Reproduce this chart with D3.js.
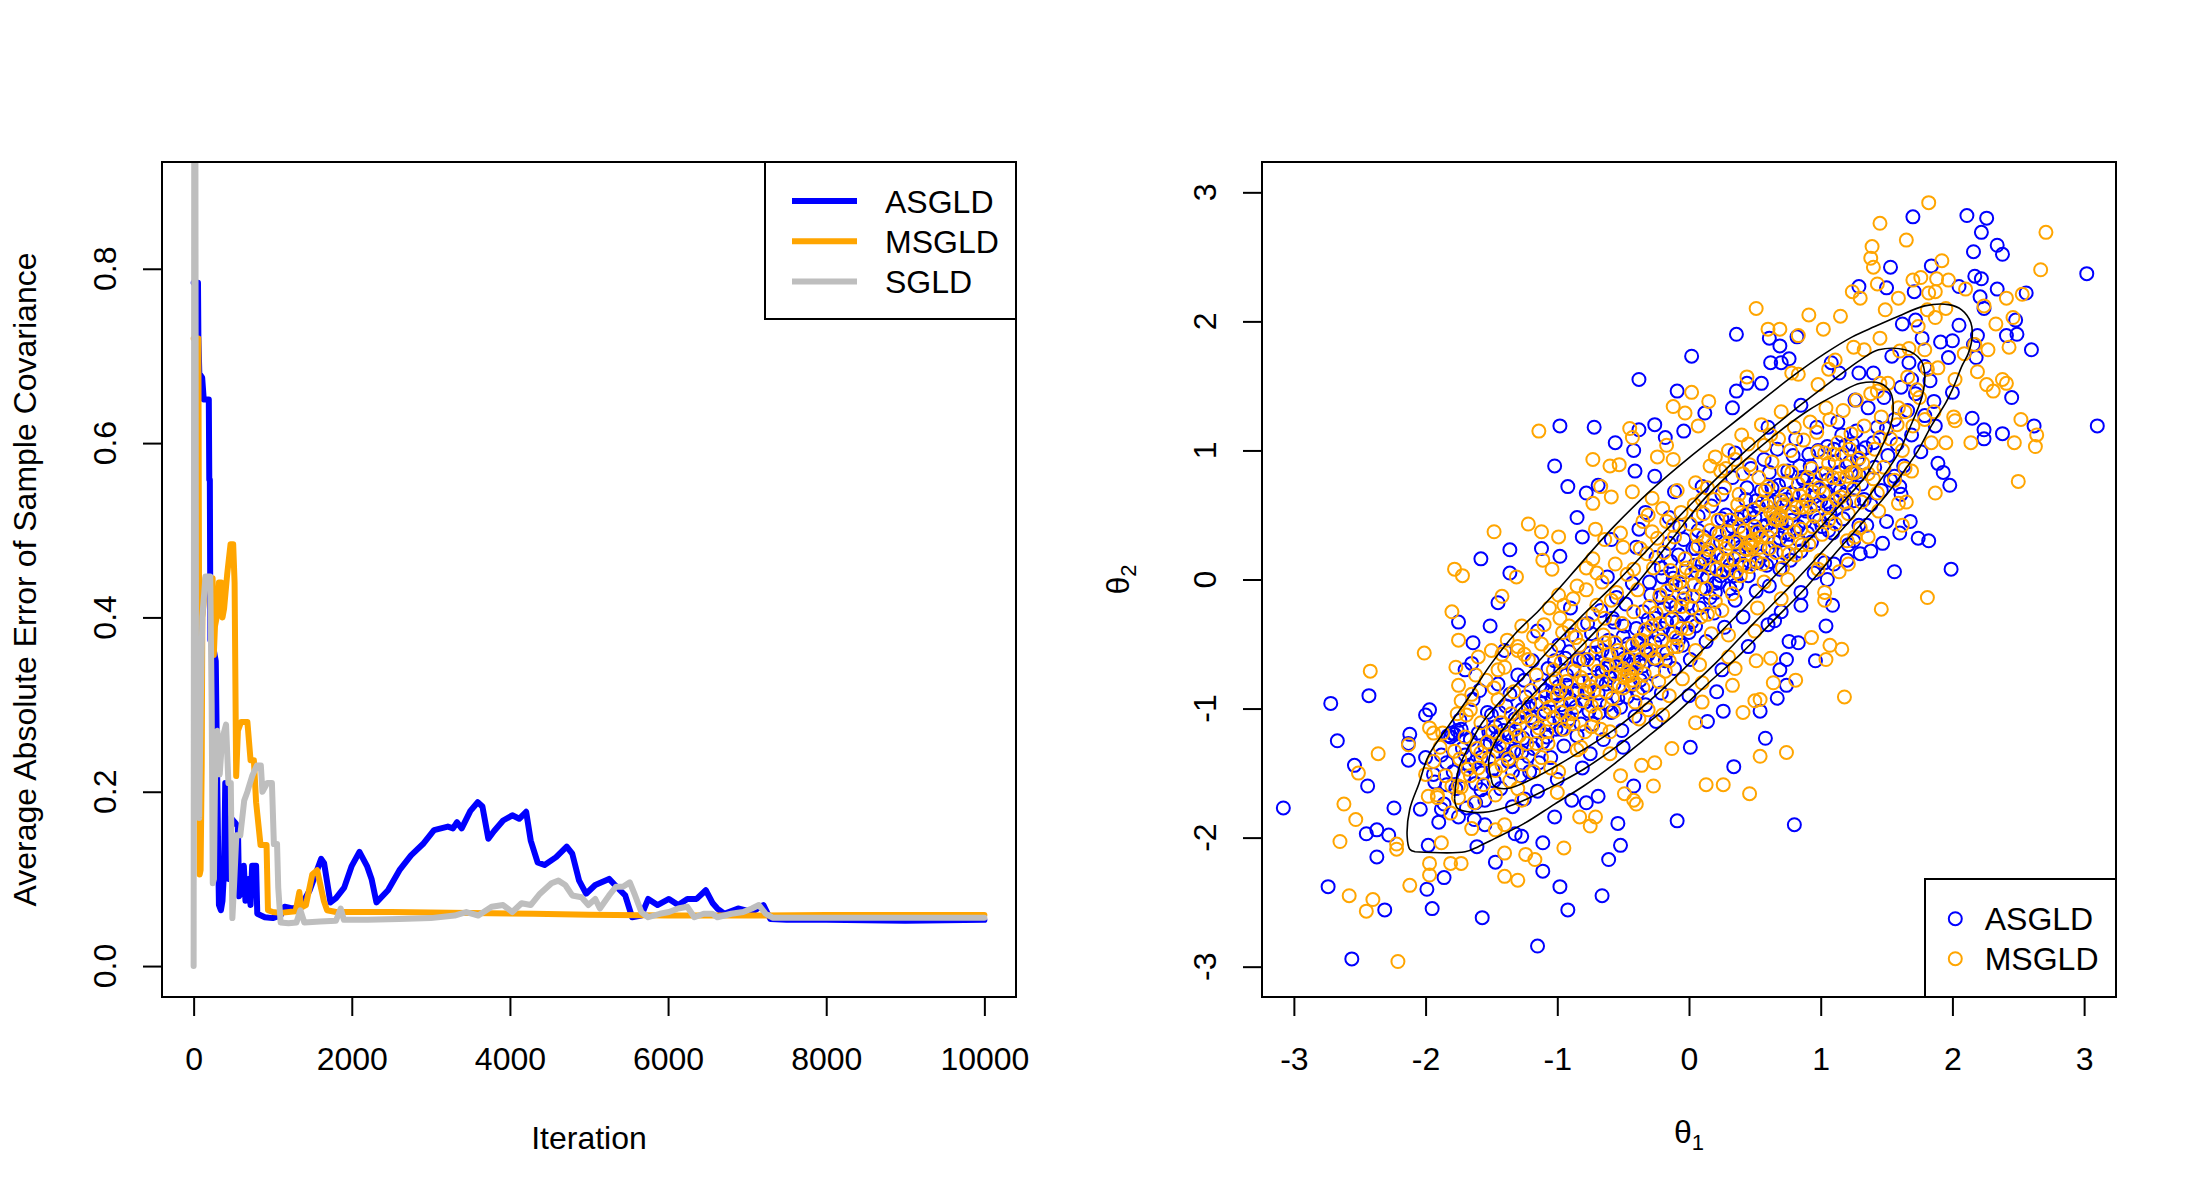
<!DOCTYPE html>
<html><head><meta charset="utf-8">
<script src="https://cdn.jsdelivr.net/npm/d3@7"></script>
<style>
body{margin:0;background:#fff}
svg{display:block}
text{font-family:"Liberation Sans",Arial,Helvetica,sans-serif}
</style>
</head><body>
<svg id="chart" width="2200" height="1200"></svg>
<script>
// ---------------- data ----------------
const iterTicks = [0, 2000, 4000, 6000, 8000, 10000];
const errTicks = [0, 0.2, 0.4, 0.6, 0.8];
const thetaTicks = [-3, -2, -1, 0, 1, 2, 3];
const lineNames = ["ASGLD", "MSGLD", "SGLD"];
const lineColors = ["#0000FF", "#FFA500", "#BEBEBE"];
const scatterNames = ["ASGLD", "MSGLD"];
const scatterColors = ["#0000FF", "#FFA500"];

// [iteration, average absolute error]
const asgldErr = [[0,0.784],[55,0.784],[60,0.722],[72,0.680],[108,0.675],[128,0.650],[192,0.650],[198,0.558],[205,0.558],[212,0.374],[250,0.365],[280,0.35],[300,0.20],[320,0.07],[345,0.064],[365,0.075],[385,0.11],[400,0.21],[415,0.13],[440,0.10],[470,0.17],[520,0.165],[560,0.16],[575,0.08],[600,0.085],[635,0.115],[655,0.075],[690,0.10],[720,0.07],[740,0.115],[790,0.115],[805,0.06],[900,0.056],[1000,0.055],[1100,0.058],[1150,0.068],[1250,0.066],[1351,0.068],[1468,0.087],[1613,0.123],[1650,0.118],[1730,0.073],[1800,0.078],[1904,0.090],[2000,0.115],[2097,0.131],[2196,0.114],[2250,0.100],[2312,0.073],[2458,0.087],[2603,0.110],[2749,0.127],[2900,0.140],[3040,0.156],[3215,0.160],[3280,0.158],[3331,0.165],[3390,0.158],[3500,0.178],[3593,0.188],[3652,0.183],[3727,0.146],[3800,0.155],[3914,0.167],[4030,0.173],[4117,0.169],[4205,0.177],[4263,0.144],[4350,0.119],[4438,0.116],[4584,0.125],[4718,0.137],[4788,0.129],[4875,0.098],[4963,0.083],[5079,0.093],[5254,0.100],[5370,0.089],[5458,0.081],[5545,0.056],[5662,0.058],[5749,0.077],[5866,0.070],[6011,0.077],[6128,0.070],[6244,0.077],[6361,0.077],[6477,0.087],[6565,0.072],[6623,0.066],[6711,0.060],[6885,0.066],[7060,0.062],[7206,0.070],[7293,0.054],[7500,0.053],[8000,0.053],[9000,0.052],[10000,0.053]];
const msgldErr = [[0,0.72],[60,0.72],[68,0.45],[76,0.105],[88,0.11],[95,0.17],[102,0.23],[110,0.40],[130,0.42],[150,0.445],[240,0.445],[255,0.357],[270,0.39],[300,0.404],[320,0.44],[350,0.44],[365,0.40],[385,0.41],[425,0.45],[467,0.484],[500,0.484],[518,0.44],[538,0.218],[560,0.27],[600,0.28],[680,0.28],[720,0.236],[762,0.236],[790,0.188],[846,0.139],[922,0.139],[940,0.064],[1000,0.062],[1100,0.061],[1290,0.063],[1337,0.085],[1360,0.067],[1420,0.07],[1500,0.105],[1562,0.11],[1646,0.075],[1688,0.064],[1800,0.062],[2500,0.062],[3500,0.061],[4300,0.060],[5000,0.059],[6000,0.058],[7000,0.058],[8000,0.0585],[10000,0.0585]];
const sgldErr = [[0,0.0],[8,0.98],[22,0.98],[30,0.35],[40,0.20],[55,0.35],[70,0.17],[90,0.30],[110,0.40],[150,0.447],[210,0.447],[228,0.30],[242,0.095],[257,0.10],[275,0.255],[300,0.27],[330,0.22],[360,0.26],[410,0.277],[440,0.21],[470,0.21],[490,0.055],[510,0.09],[540,0.15],[590,0.15],[640,0.19],[680,0.20],[740,0.218],[800,0.23],[850,0.23],[870,0.20],[930,0.21],[990,0.21],[1015,0.14],[1055,0.14],[1070,0.09],[1100,0.05],[1200,0.049],[1300,0.05],[1350,0.064],[1400,0.05],[1600,0.051],[1800,0.052],[1860,0.066],[1900,0.053],[2200,0.053],[2600,0.054],[3000,0.055],[3300,0.058],[3448,0.062],[3600,0.058],[3768,0.068],[3914,0.070],[4030,0.062],[4147,0.072],[4263,0.070],[4380,0.083],[4525,0.095],[4613,0.098],[4700,0.093],[4788,0.081],[4905,0.079],[4992,0.070],[5079,0.077],[5138,0.066],[5254,0.081],[5341,0.091],[5429,0.091],[5516,0.096],[5574,0.083],[5662,0.062],[5749,0.056],[5895,0.060],[6011,0.062],[6128,0.066],[6244,0.068],[6332,0.056],[6450,0.060],[6560,0.060],[6623,0.056],[6800,0.060],[6950,0.062],[7060,0.066],[7148,0.070],[7235,0.060],[7322,0.0555],[8000,0.0555],[10000,0.0555]];

// [theta1, theta2] samples: sparse outer ring read one by one
const asgldOuter = [[0.02,1.73],[-0.38,1.55],[-0.09,1.46],[-0.98,1.19],[-0.72,1.18],[-0.26,1.20],[-0.04,1.15],[-0.56,1.06],[-0.38,1.16],[-0.42,1.00],[-0.18,1.10],[-1.02,0.88],[-0.92,0.72],[-0.78,0.67],[-0.69,0.73],[-0.85,0.48],[-0.81,0.33],[-1.12,0.24],[-1.36,0.23],[-1.58,0.16],[-1.36,0.05],[-0.98,0.18],[-0.41,0.84],[-0.26,0.80],[-0.11,0.68],[-0.33,0.52],[-0.59,0.31],[-0.38,0.39],
[1.70,2.81],[2.11,2.82],[2.26,2.80],[2.22,2.69],[2.34,2.59],[2.38,2.52],[2.16,2.54],[3.02,2.37],[1.53,2.42],[1.84,2.43],[1.29,2.27],[1.50,2.26],[1.71,2.23],[2.17,2.35],[2.22,2.33],[2.05,2.27],[2.34,2.25],[2.56,2.22],[2.21,2.19],[2.24,2.10],[2.48,2.01],[2.49,1.90],[2.41,1.89],[2.19,1.89],[2.05,1.97],[1.62,1.98],[1.72,2.01],[1.77,1.87],[2.60,1.78],[1.91,1.84],[2.00,1.85],[2.16,1.82],[2.18,1.72],[1.97,1.72],[2.45,1.41],[2.00,1.45],[1.86,1.38],[2.15,1.25],[2.24,1.16],[2.24,1.09],[2.38,1.13],[2.62,1.19],[3.10,1.19],[1.89,0.90],[1.93,0.83],[1.98,0.73],[1.56,0.80],[1.61,0.66],[1.68,0.45],[1.60,0.36],[1.74,0.32],[1.82,0.30],[1.38,0.22],[1.47,0.28],[1.56,0.06],[1.99,0.08],[0.36,1.90],[0.82,1.88],[0.61,1.87],[0.69,1.81],[0.62,1.68],[0.70,1.68],[0.76,1.71],[0.36,1.46],[0.44,1.52],[0.55,1.52],[0.33,1.33],[0.12,1.29],[1.29,1.60],[1.40,1.60],[1.14,1.60],[1.08,1.68],[1.26,1.39],[1.54,1.73],[1.67,1.68],[1.69,1.55],[1.79,1.65],
[-3.08,-1.77],[-2.72,-0.96],[-2.67,-1.25],[-2.43,-0.90],[-2.54,-1.44],[-2.44,-1.60],[-2.74,-2.38],[-2.37,-2.15],[-2.45,-1.97],[-2.37,-1.94],[-2.28,-1.98],[-2.31,-2.56],[-2.56,-2.94],[-1.95,-2.55],[-1.99,-2.40],[-1.86,-2.31],[-1.57,-2.62],[-1.15,-2.84],[-1.11,-2.26],[-0.98,-2.38],[-0.92,-2.56],[-0.66,-2.45],[-0.61,-2.17],[-0.52,-2.06],[-0.54,-1.89],[-0.42,-1.60],[-0.09,-1.87],[0.01,-1.30],[-1.47,-2.19],[-1.11,-2.04],[-1.32,-1.97],[-1.61,-2.07],[-1.98,-2.06],[-2.24,-1.77],[-2.04,-1.78],[-2.13,-1.27],[-2.00,-1.05],[-1.97,-1.01],[-2.12,-1.20],[-2.13,-1.40],[-2.00,-1.38],[-1.94,-1.51],[-1.84,-1.59],[-1.80,-1.19],[-1.73,-1.16],[-1.78,-1.20],[-1.76,-1.17],[-1.81,-1.22],[-1.75,-0.33],[-1.64,-0.49],[-1.51,-0.36],[-1.45,-0.18],[-1.65,-0.65],[-1.88,-1.78],[-1.75,-1.84],[-1.62,-1.73],[-0.69,-1.68],[-0.78,-1.73],[-0.89,-1.71],[-1.02,-1.84],[-1.27,-1.99],
[1.09,-0.20],[1.04,-0.36],[0.96,-0.63],[0.74,-0.62],[0.69,-0.70],[0.74,-0.82],[0.67,-0.92],[0.54,-1.02],[0.26,-1.02],[0.14,-1.10],[0.58,-1.23],[0.34,-1.45],[0.80,-1.90],[0.83,-0.49],[0.76,-0.48],[0.21,-0.87],
[0.95,0.05],[1.10,0.12],[1.25,0.30],[0.70,-0.25],[0.85,-0.10],[1.35,0.42],[0.60,-0.35],[1.20,0.15],
[-1.55,-1.9],[-1.25,-1.7],[-1.0,-1.55],[-0.75,-1.35],[-0.5,-1.3],[-0.25,-1.1],[0.0,-0.9],[0.25,-0.7],[0.45,-0.52],[0.65,-0.32],[0.85,-0.2],[1.05,0.0],[1.3,0.2],[1.5,0.45],[-1.7,-0.7],[-1.4,-0.55],[-1.15,-0.4],[-0.9,-0.22],[-0.62,0.02],[-0.4,0.25],[-0.15,0.48],[0.1,0.72],[0.35,0.98],[0.6,1.18],[0.85,1.35]];

// dense core, read region by region along the diagonal
const asgldCore = [
[-1.93,-1.57],[-1.88,-1.36],[-1.86,-1.74],[-1.83,-1.21],[-1.79,-1.49],[-1.77,-1.62],[-1.74,-1.09],[-1.72,-1.31],[-1.69,-1.77],[-1.67,-1.44],[-1.64,-0.93],[-1.62,-1.58],[-1.6,-1.19],[-1.58,-1.38],[-1.55,-1.71],[-1.53,-1.03],[-1.51,-1.27],[-1.84,-1.42],[-1.71,-1.52],[-1.66,-1.24],[-1.57,-1.5],[-1.59,-0.86],[-1.9,-1.88],[-1.63,-1.86],
[-1.49,-1.47],[-1.47,-1.14],[-1.45,-0.81],[-1.43,-1.62],[-1.41,-1.29],[-1.39,-0.98],[-1.37,-1.41],[-1.34,-1.76],[-1.32,-1.08],[-1.3,-0.74],[-1.28,-1.52],[-1.26,-1.23],[-1.24,-0.91],[-1.22,-1.37],[-1.19,-0.63],[-1.17,-1.11],[-1.15,-1.64],[-1.13,-0.82],[-1.11,-1.26],[-1.44,-1.03],[-1.36,-1.19],[-1.27,-1.01],[-1.21,-1.49],[-1.16,-0.97],[-1.33,-1.33],[-1.46,-1.33],
[-1.09,-1.02],[-1.07,-0.69],[-1.05,-1.38],[-1.03,-0.88],[-1.01,-1.16],[-0.99,-0.51],[-0.97,-0.97],[-0.95,-1.29],[-0.93,-0.74],[-0.91,-1.08],[-0.89,-0.43],[-0.87,-0.86],[-0.85,-1.21],[-0.83,-0.62],[-0.81,-1.46],[-0.79,-0.95],[-0.77,-0.34],[-0.75,-0.78],[-0.73,-1.12],[-0.71,-0.57],[-1.04,-0.79],[-0.98,-1.09],[-0.9,-0.93],[-0.84,-0.79],[-0.76,-1.02],[-1.08,-1.22],[-0.94,-0.61],
[-0.69,-0.88],[-0.67,-0.24],[-0.65,-1.24],[-0.63,-0.69],[-0.61,-0.47],[-0.59,-1.03],[-0.57,-0.81],[-0.55,-0.14],[-0.53,-0.58],[-0.51,-1.17],[-0.49,-0.36],[-0.47,-0.91],[-0.45,-0.66],[-0.43,-0.03],[-0.41,-1.06],[-0.39,-0.49],[-0.37,-0.78],[-0.35,-0.25],[-0.33,-0.97],[-0.31,-0.58],[-0.66,-0.55],[-0.6,-0.76],[-0.52,-0.99],[-0.46,-0.5],[-0.38,-0.64],[-0.58,-0.3],[-0.44,-0.82],[-0.34,-0.42],
[-0.29,-0.12],[-0.27,-0.71],[-0.25,0.17],[-0.23,-0.43],[-0.21,-0.88],[-0.19,-0.22],[-0.17,-0.57],[-0.15,0.28],[-0.13,-0.04],[-0.11,-0.69],[-0.09,-0.33],[-0.07,0.41],[-0.05,-0.51],[-0.03,0.06],[-0.01,-0.19],[0.01,-0.62],[0.03,0.24],[0.05,-0.36],[0.07,0.49],[0.09,-0.07],[-0.26,-0.3],[-0.2,0.02],[-0.12,-0.41],[-0.04,-0.27],[0.04,0.11],[-0.18,-0.63],[0.08,-0.22],[-0.08,0.19],
[0.11,0.33],[0.13,-0.48],[0.15,0.09],[0.17,0.57],[0.19,-0.26],[0.21,0.19],[0.23,-0.02],[0.25,0.66],[0.27,-0.37],[0.29,0.38],[0.31,0.11],[0.33,0.79],[0.35,-0.16],[0.37,0.47],[0.39,0.25],[0.41,-0.29],[0.43,0.62],[0.45,0.03],[0.47,0.86],[0.49,0.36],[0.14,0.21],[0.2,-0.1],[0.28,0.5],[0.34,0.31],[0.4,0.12],[0.46,0.51],[0.24,0.03],[0.36,-0.04],
[0.51,-0.09],[0.53,0.56],[0.55,0.18],[0.57,0.93],[0.59,0.42],[0.61,-0.05],[0.63,0.71],[0.65,0.29],[0.67,1.01],[0.69,0.08],[0.71,0.57],[0.73,0.36],[0.75,0.84],[0.77,0.15],[0.79,0.66],[0.81,1.09],[0.83,0.41],[0.85,0.22],[0.87,0.77],[0.89,0.53],[0.54,0.37],[0.6,0.6],[0.66,0.47],[0.72,0.21],[0.78,0.46],[0.84,0.88],[0.62,0.14],[0.74,0.62],
[0.91,0.97],[0.93,0.29],[0.95,0.64],[0.97,1.18],[0.99,0.46],[1.01,0.82],[1.03,0.13],[1.05,1.03],[1.07,0.58],[1.09,0.36],[1.11,0.91],[1.13,1.22],[1.15,0.69],[1.17,0.47],[1.19,1.04],[1.21,0.27],[1.23,0.83],[1.25,0.61],[1.27,1.15],[1.29,0.42],[0.96,0.79],[1.04,0.68],[1.12,0.55],[1.2,0.75],[1.28,0.93],
[1.31,0.74],[1.34,1.02],[1.36,1.33],[1.38,0.58],[1.41,0.87],[1.43,1.18],[1.46,0.69],[1.48,1.41],[1.51,0.96],[1.53,0.77],[1.56,1.24],[1.58,1.05],[1.61,1.49],[1.63,0.88],[1.66,1.31],[1.69,1.12],[1.72,1.44],[1.76,0.99],[1.79,1.27],[1.83,1.54],[1.87,1.19],[1.4,1.06],[1.5,1.17],[1.6,0.72]];
const asgldCoreDense = [[-1.62,-1.41],[-1.48,-1.56],[-1.55,-1.29],[-1.41,-1.17],[-1.34,-1.49],[-1.5,-1.05],[-1.28,-1.12],[-1.22,-0.99],[-1.39,-1.36],[-1.18,-1.31],[-1.12,-0.96],[-1.25,-0.78],[-1.06,-1.11],[-0.99,-0.83],[-1.14,-1.42],[-0.94,-1.02],[-0.88,-0.69],[-1.02,-0.63],[-0.82,-1.12],[-0.77,-0.88],[-0.91,-0.56],[-0.72,-0.66],[-0.68,-1.03],[-0.86,-0.99],[-0.63,-0.81],[-0.59,-0.58],[-0.74,-0.42],[-0.54,-0.92],[-0.49,-0.61],[-0.66,-0.71],[-0.44,-0.72],[-0.4,-0.38],[-0.57,-0.33],[-0.35,-0.67],[-0.31,-0.31],[-0.48,-0.19],[-0.26,-0.49],[-0.22,-0.14],[-0.39,-0.88],[-0.17,-0.33],[-0.12,0.01],[-0.3,-0.02],[-0.08,-0.47],[-0.03,-0.11],[-0.21,0.09],[0.02,-0.33],[0.06,0.06],[-0.14,0.14],[0.11,-0.19],[0.15,0.18],[-0.04,0.31],[0.2,-0.03],[0.24,0.29],[0.07,0.38],[0.29,0.07],[0.33,0.41],[0.16,-0.14],[0.38,0.19],[0.42,0.49],[0.25,0.47],[0.47,0.27],[0.51,0.61],[0.34,0.03],[0.56,0.41],[0.6,0.24],[0.44,0.71],[0.65,0.6],[0.69,0.32],[0.52,0.13],[0.74,0.76],[0.78,0.52],[0.61,0.83],[0.83,0.31],[0.87,0.67],[0.7,0.44],[0.92,0.88],[0.96,0.58],[0.79,0.96],[1.01,0.41],[1.05,0.77],[0.88,0.45],[1.1,1.01],[1.14,0.83],[0.98,1.0],[1.19,0.59],[1.24,1.05],[1.06,0.38],[1.29,0.81],[1.33,0.62],[1.16,1.12],
[-1.7,-1.36],[-1.58,-1.63],[-1.46,-1.23],[-1.31,-1.22],[-1.2,-1.07],[-1.09,-0.86],[-0.97,-1.16],[-0.85,-0.88],[-0.75,-0.57],[-0.62,-0.97],[-0.52,-0.72],[-0.41,-0.57],[-0.32,-0.82],[-0.2,-0.38],[-0.1,-0.21],[0.0,-0.41],[0.1,0.12],[0.21,0.36],[0.31,-0.07],[0.4,0.36],[0.5,0.48],[0.59,0.11],[0.68,0.73],[0.8,0.58],[0.9,0.36],[1.0,0.61],[1.11,0.72],[1.22,0.91],[-1.52,-1.18],[-1.36,-0.89],[-1.27,-1.34],[-1.15,-1.18],[-1.04,-0.93],[-0.93,-0.82],[-0.8,-0.62],[-0.7,-0.79],[-0.6,-0.67],[-0.5,-0.44],[-0.42,-0.63],[-0.33,-0.53],[-0.24,-0.62],[-0.15,-0.17],[-0.05,-0.06],[0.05,0.24],[0.14,0.02],[0.26,0.16],[0.37,0.28],[0.46,0.14],[0.55,0.69],[0.64,0.45],[0.76,0.35],[0.86,0.79],[0.95,0.74],[1.07,0.51],[1.18,0.66],[1.3,0.99]];

const msgldOuter = [[0.02,1.45],[-0.12,1.34],[-0.03,1.29],[-1.14,1.15],[-0.45,1.17],[-0.43,1.10],[-0.17,1.04],[-0.24,0.95],[-0.12,0.93],[-0.73,0.93],[-0.60,0.88],[-0.53,0.89],[-0.67,0.72],[-0.59,0.64],[-0.73,0.59],[-0.43,0.68],[-0.28,0.63],[-1.22,0.43],[-1.48,0.37],[-1.12,0.37],[-0.99,0.33],[-0.71,0.39],[-0.64,0.31],[-1.78,0.08],[-1.72,0.03],[-1.11,0.15],[-1.04,0.08],[-0.78,0.09],[-1.31,0.02],
[1.82,2.92],[1.45,2.76],[1.65,2.63],[2.71,2.69],[1.39,2.58],[1.38,2.49],[1.40,2.42],[1.92,2.47],[2.67,2.40],[1.24,2.23],[1.30,2.18],[1.43,2.29],[1.59,2.18],[1.49,2.09],[1.70,2.32],[1.76,2.34],[1.88,2.33],[1.97,2.32],[1.82,2.22],[1.87,2.23],[2.10,2.25],[2.41,2.18],[2.53,2.21],[1.81,2.09],[1.87,2.03],[1.95,2.10],[2.24,2.12],[2.33,1.98],[2.46,2.03],[2.43,1.80],[2.27,1.78],[2.17,1.82],[2.09,1.75],[0.51,2.10],[0.91,2.05],[1.15,2.04],[1.02,1.94],[0.60,1.94],[0.69,1.94],[0.83,1.89],[1.25,1.80],[1.33,1.78],[1.45,1.87],[1.60,1.77],[1.67,1.79],[1.79,1.78],[1.74,1.96],[1.89,1.64],[2.02,1.55],[2.19,1.61],[2.26,1.51],[2.31,1.46],[2.38,1.55],[2.41,1.52],[2.01,1.26],[2.02,1.23],[1.84,1.06],[1.95,1.06],[2.14,1.06],[2.47,1.06],[2.52,1.24],[2.64,1.12],[2.63,1.03],[2.50,0.76],[1.87,0.67],[1.59,0.59],[1.65,0.60],[1.62,0.42],[1.69,0.84],[1.64,0.86],[1.73,1.47],[1.79,1.24],[1.64,1.30],[1.43,1.46],[1.45,1.52],[0.15,1.38],[0.44,1.57],[0.78,1.60],[0.83,1.59],[1.06,1.63],[0.98,1.51],[1.11,1.70],[0.07,1.19],[1.26,0.33],[1.36,0.33],[1.44,0.53],[1.14,0.06],[1.21,0.12],
[-2.01,-0.57],[-2.42,-0.71],[-1.80,-0.25],[-1.75,-0.47],[-1.77,-0.68],[-2.36,-1.35],[-2.62,-1.74],[-2.51,-1.50],[-2.53,-1.86],[-2.65,-2.03],[-2.22,-2.09],[-2.22,-2.05],[-2.58,-2.45],[-2.45,-2.57],[-2.40,-2.48],[-2.21,-2.96],[-2.12,-2.37],[-1.97,-2.29],[-1.97,-2.20],[-1.88,-2.04],[-1.81,-2.20],[-1.73,-2.20],[-1.40,-2.30],[-1.30,-2.33],[-1.40,-2.12],[-1.24,-2.13],[-1.17,-2.17],[-0.95,-2.08],[-0.83,-1.84],[-0.75,-1.91],[-0.71,-1.84],[-0.40,-1.74],[-0.42,-1.71],[-0.49,-1.66],[-0.27,-1.60],[-0.52,-1.52],[-0.36,-1.44],[-0.26,-1.42],[-0.13,-1.31],[-1.65,-1.93],[-1.47,-1.94],[-1.73,-0.94],[-1.66,-1.01],[-1.94,-1.19],[-1.97,-1.15],[-2.13,-1.28],[-2.00,-1.51],[-1.98,-1.68],[-1.91,-1.69],[-1.75,-1.60],[-1.75,-1.69],[-1.42,-0.13],
[1.81,-0.14],[1.46,-0.23],[1.03,-0.10],[1.03,-0.16],[1.07,-0.51],[1.16,-0.54],[0.93,-0.45],[1.04,-0.62],[0.81,-0.78],[0.64,-0.80],[1.18,-0.91],[0.54,-0.93],[0.50,-0.94],[0.41,-1.03],[0.33,-0.82],[0.35,-0.69],[0.51,-0.63],[0.62,-0.61],[0.74,-1.34],[0.54,-1.37],[0.13,-1.59],[0.26,-1.59],[0.46,-1.66],[0.05,-1.11],[0.10,-0.95],
[-1.3,-0.55],[-0.95,-0.2],[-0.7,0.05],[-0.5,0.25],[-0.2,0.55],[0.05,0.75],[0.3,1.0],[0.55,1.2],[-1.6,-0.6],[-1.1,-0.35],[-0.85,-0.05],[-0.35,0.45],[0.2,0.95],[0.7,1.3],
[-1.0,-1.65],[-0.6,-1.35],[-0.2,-1.05],[0.3,-0.6],[0.7,-0.15],[1.0,0.15],[1.3,0.4],[-1.4,-1.9],[0.1,-0.8],[0.5,-0.4],
[-1.75,-0.82],[-1.62,-0.74],[-1.5,-0.55],[-1.38,-0.47],[-1.27,-0.36],[-1.18,-0.44],[-1.06,-0.22],[-0.96,-0.41],[-0.88,-0.15],[-0.78,-0.08],[-0.66,-0.02],[-0.56,0.12],[-0.47,0.04],[-0.37,0.24],[-0.28,0.37],[-0.17,0.45],[-0.06,0.52],[0.04,0.58],[0.14,0.71],[0.24,0.84],[0.35,0.93],[0.46,0.89],[0.57,1.04],[0.68,1.09],[0.8,1.18],[0.92,1.22],[1.04,1.33],[-1.45,-0.7],[-1.22,-0.62],[-0.99,-0.12],[-0.73,0.16],[-0.52,0.36],[-0.31,0.5],[-0.09,0.69],[0.16,0.88],[0.4,1.12],
[-1.3,-1.62],[-1.05,-1.46],[-0.82,-1.3],[-0.6,-1.18],[-0.38,-1.08],[-0.15,-0.9],[0.08,-0.66],[0.3,-0.43],[0.52,-0.22],[0.75,0.0],[0.98,0.08],[1.2,0.3]];

const msgldCore = [
[-1.94,-1.41],[-1.91,-1.67],[-1.87,-1.19],[-1.85,-1.52],[-1.81,-1.81],[-1.78,-1.33],[-1.76,-1.04],[-1.73,-1.61],[-1.7,-1.22],[-1.68,-1.47],[-1.65,-0.89],[-1.63,-1.73],[-1.61,-1.31],[-1.58,-1.11],[-1.56,-1.59],[-1.54,-0.78],[-1.52,-1.39],[-1.8,-1.6],[-1.69,-1.05],[-1.6,-1.46],[-1.89,-1.3],[-1.74,-1.39],
[-1.49,-1.18],[-1.47,-1.67],[-1.45,-0.93],[-1.42,-1.44],[-1.4,-0.68],[-1.38,-1.22],[-1.36,-1.56],[-1.33,-0.87],[-1.31,-1.34],[-1.29,-1.07],[-1.27,-1.71],[-1.25,-0.58],[-1.23,-1.27],[-1.21,-0.96],[-1.18,-1.49],[-1.16,-0.74],[-1.14,-1.15],[-1.12,-1.38],[-1.44,-1.29],[-1.35,-1.04],[-1.26,-1.43],[-1.19,-1.1],[-1.3,-0.52],[-1.48,-0.84],
[-1.09,-0.91],[-1.07,-1.27],[-1.05,-0.55],[-1.03,-1.07],[-1.01,-0.77],[-0.99,-1.49],[-0.97,-0.64],[-0.95,-1.16],[-0.93,-0.88],[-0.91,-0.36],[-0.89,-1.04],[-0.87,-0.71],[-0.85,-1.32],[-0.83,-0.51],[-0.81,-0.94],[-0.79,-1.18],[-0.77,-0.62],[-0.75,-0.83],[-0.73,-0.27],[-0.71,-1.05],[-1.06,-0.99],[-0.98,-0.86],[-0.92,-1.1],[-0.86,-0.45],[-0.8,-0.79],[-0.74,-0.98],
[-0.69,-0.71],[-0.67,-1.16],[-0.65,-0.43],[-0.63,-0.87],[-0.61,-0.58],[-0.59,-0.16],[-0.57,-1.02],[-0.55,-0.66],[-0.53,-0.82],[-0.51,-0.34],[-0.49,-0.76],[-0.47,-0.75],[-0.46,-0.72],[-0.44,-0.74],[-0.43,-0.51],[-0.41,-0.95],[-0.39,-0.08],[-0.37,-0.62],[-0.35,-0.84],[-0.33,-0.39],[-0.31,-1.01],[-0.64,-0.3],[-0.56,-0.49],[-0.42,-0.25],[-0.36,-0.47],[-0.68,-0.95],
[-0.29,-0.55],[-0.27,0.09],[-0.25,-0.26],[-0.23,-0.79],[-0.21,-0.47],[-0.19,0.21],[-0.17,-0.09],[-0.15,-0.63],[-0.13,-0.31],[-0.11,0.33],[-0.09,-0.52],[-0.07,-0.02],[-0.05,-0.77],[-0.03,0.16],[-0.01,-0.38],[0.01,0.43],[0.03,-0.13],[0.05,-0.55],[0.07,0.26],[0.09,-0.29],[-0.28,-0.36],[-0.22,-0.12],[-0.14,0.07],[-0.06,-0.21],[0.02,0.05],[0.08,0.12],[-0.24,0.32],[-0.1,-0.45],
[0.11,0.51],[0.13,-0.07],[0.15,0.23],[0.17,-0.42],[0.19,0.62],[0.21,0.08],[0.23,0.35],[0.25,-0.24],[0.27,0.71],[0.29,0.15],[0.31,0.46],[0.33,-0.11],[0.35,0.29],[0.37,0.58],[0.39,0.03],[0.41,0.82],[0.43,0.24],[0.45,0.28],[0.47,0.29],[0.48,0.25],[0.49,0.54],[0.16,0.38],[0.22,0.19],[0.3,0.28],[0.38,0.41],[0.42,0.11],[0.12,0.16],
[0.51,0.14],[0.53,0.79],[0.55,0.33],[0.57,-0.02],[0.59,0.57],[0.61,0.24],[0.63,0.91],[0.65,0.47],[0.67,0.46],[0.69,0.5],[0.71,0.09],[0.73,0.66],[0.75,0.31],[0.77,1.0],[0.79,0.52],[0.81,0.19],[0.83,0.74],[0.85,0.39],[0.87,1.08],[0.89,0.61],[0.56,0.6],[0.62,0.38],[0.72,0.84],[0.8,0.37],[0.86,0.56],[0.6,0.72],
[0.91,0.27],[0.93,0.86],[0.95,0.49],[0.97,1.14],[0.99,0.71],[1.01,0.35],[1.03,0.98],[1.05,0.57],[1.07,1.24],[1.09,0.79],[1.11,0.43],[1.13,1.06],[1.15,0.64],[1.17,1.31],[1.19,0.88],[1.21,0.51],[1.23,1.13],[1.25,0.7],[1.27,1.39],[1.29,0.94],[0.94,0.68],[1.06,0.9],[1.16,0.97],[1.24,0.83],
[1.31,0.6],[1.33,1.19],[1.36,0.82],[1.38,1.44],[1.41,1.01],[1.43,0.67],[1.46,1.26],[1.48,0.87],[1.51,1.52],[1.53,1.09],[1.56,0.77],[1.59,1.33],[1.62,1.0],[1.66,1.57],[1.7,1.19],[1.75,1.41],[1.81,1.63],[1.86,1.3],[1.45,1.1],[1.58,1.2]];
const msgldCoreDense = [[-1.66,-1.52],[-1.53,-1.26],[-1.43,-1.11],[-1.37,-1.39],[-1.29,-1.21],[-1.2,-0.86],[-1.16,-1.27],[-1.1,-1.04],[-1.03,-0.7],[-0.97,-1.03],[-0.93,-0.79],[-0.88,-1.12],[-0.84,-0.63],[-0.79,-0.87],[-0.74,-1.14],[-0.7,-0.52],[-0.66,-0.79],[-0.62,-0.66],[-0.58,-0.92],[-0.54,-0.55],[-0.5,-0.84],[-0.46,-0.62],[-0.42,-0.81],[-0.38,-0.47],[-0.34,-0.73],[-0.3,-0.21],[-0.26,-0.61],[-0.22,-0.34],[-0.18,-0.71],[-0.14,-0.2],[-0.1,-0.04],[-0.06,-0.38],[-0.02,0.09],[0.02,-0.22],[0.06,0.34],[0.1,0.02],[0.14,-0.27],[0.18,0.27],[0.22,0.46],[0.26,0.06],[0.3,0.37],[0.34,0.16],[0.38,0.66],[0.42,0.38],[0.46,0.1],[0.5,0.41],[0.54,0.25],[0.58,0.69],[0.62,0.52],[0.66,0.21],[0.7,0.61],[0.74,0.44],[0.78,0.83],[0.82,0.56],[0.86,0.27],[0.9,0.79],[0.94,0.41],[0.98,0.99],[1.02,0.67],[1.06,0.46],[1.1,0.97],[1.14,0.78],[1.18,0.6],[1.22,1.01],[1.26,0.83],
[-0.5,-0.69],[-0.43,-0.78],[0.49,0.3],[0.44,0.23],[0.7,0.47],[0.64,0.51],
[-1.58,-1.34],[-1.47,-1.48],[-1.32,-1.16],[-1.24,-1.06],[-1.08,-1.18],[-1.0,-0.9],[-0.9,-0.96],[-0.82,-0.76],[-0.72,-0.86],[-0.64,-0.49],[-0.56,-0.73],[-0.4,-0.69],[-0.32,-0.55],[-0.2,-0.56],[-0.12,-0.52],[-0.04,-0.15],[0.04,-0.04],[0.12,0.3],[0.2,-0.17],[0.28,0.24],[0.36,0.06],[0.4,0.52],[0.52,0.37],[0.56,0.12],[0.6,0.33],[0.72,0.58],[0.76,0.2],[0.84,0.65],[0.92,0.56],[1.04,0.82],[1.12,0.62],[1.2,0.8],[1.32,0.9],[1.4,0.78],
[-1.12,-0.5],[-0.8,-0.35],[-0.55,-0.1],[-0.32,0.2],[-0.12,0.42],[0.1,0.62],[0.28,0.86],[0.45,1.05],[0.62,1.12],[-1.42,-0.58],[-0.98,-0.3],[-0.7,-0.2],[-0.42,0.08]];

// density contour lines [theta1, theta2]
const contourOuter = [[-2.08,-2.11],[-1.70,-2.11],[-1.60,-2.07],[-1.48,-2.01],[-1.25,-1.89],[-1.02,-1.74],[-0.80,-1.60],[-0.57,-1.43],[-0.34,-1.24],[-0.10,-1.04],[0.15,-0.80],[0.39,-0.58],[0.62,-0.34],[0.89,-0.06],[1.10,0.19],[1.36,0.49],[1.51,0.67],[1.64,0.85],[1.74,1.0],[1.84,1.19],[1.95,1.37],[2.02,1.52],[2.07,1.65],[2.12,1.75],[2.15,1.88],[2.14,1.99],[2.07,2.09],[1.97,2.13],[1.79,2.12],[1.59,2.04],[1.41,1.96],[1.24,1.88],[1.03,1.75],[0.78,1.57],[0.53,1.37],[0.27,1.16],[0.02,0.96],[-0.29,0.69],[-0.58,0.40],[-0.85,0.09],[-0.97,-0.05],[-1.14,-0.24],[-1.32,-0.42],[-1.50,-0.65],[-1.67,-0.91],[-1.83,-1.14],[-1.98,-1.37],[-2.05,-1.58],[-2.12,-1.78],[-2.14,-1.99],[-2.12,-2.09],[-2.08,-2.11]];
const contourMiddle = [[-1.78,-1.70],[-1.75,-1.47],[-1.67,-1.29],[-1.57,-1.11],[-1.42,-0.93],[-1.22,-0.72],[-1.02,-0.50],[-0.81,-0.28],[-0.55,-0.02],[-0.25,0.30],[0.05,0.62],[0.39,0.96],[0.77,1.29],[1.10,1.55],[1.30,1.70],[1.44,1.78],[1.64,1.78],[1.76,1.70],[1.79,1.59],[1.77,1.42],[1.67,1.16],[1.59,0.98],[1.44,0.75],[1.29,0.54],[1.14,0.36],[0.98,0.18],[0.78,-0.04],[0.5,-0.33],[0.2,-0.65],[-0.1,-0.93],[-0.45,-1.22],[-0.8,-1.47],[-1.07,-1.62],[-1.32,-1.74],[-1.52,-1.80],[-1.68,-1.80],[-1.76,-1.77],[-1.78,-1.70]];
const contourInner = [[-1.50,-1.55],[-1.52,-1.40],[-1.45,-1.22],[-1.30,-1.02],[-1.10,-0.80],[-0.85,-0.55],[-0.60,-0.28],[-0.37,0.0],[-0.10,0.35],[0.13,0.64],[0.51,1.0],[0.89,1.30],[1.15,1.45],[1.30,1.52],[1.45,1.52],[1.53,1.45],[1.55,1.30],[1.52,1.16],[1.44,0.98],[1.34,0.80],[1.16,0.59],[0.95,0.35],[0.70,0.08],[0.40,-0.24],[0.10,-0.55],[-0.20,-0.85],[-0.55,-1.15],[-0.90,-1.38],[-1.20,-1.55],[-1.38,-1.62],[-1.48,-1.60],[-1.50,-1.55]];

// ---------------- drawing ----------------
const svg = d3.select("#chart");
svg.append("rect").attr("width",2200).attr("height",1200).attr("fill","#fff");
const FONT = 32;
const boxL = {x0:162, x1:1016, y0:162, y1:997};
const boxR = {x0:1262, x1:2116, y0:162, y1:997};

const xL = d3.scaleLinear().domain([-400,10400]).range([boxL.x0, boxL.x1]);
const yL = d3.scaleLinear().domain([-0.0355,0.9225]).range([boxL.y1, boxL.y0]);
const xR = d3.scaleLinear().domain([-3.242,3.242]).range([boxR.x0, boxR.x1]);
const yR = d3.scaleLinear().domain([-3.235,3.235]).range([boxR.y1, boxR.y0]);

const defs = svg.append("defs");
defs.append("clipPath").attr("id","clipL").append("rect")
  .attr("x",boxL.x0).attr("y",boxL.y0).attr("width",boxL.x1-boxL.x0).attr("height",boxL.y1-boxL.y0);
defs.append("clipPath").attr("id","clipR").append("rect")
  .attr("x",boxR.x0).attr("y",boxR.y0).attr("width",boxR.x1-boxR.x0).attr("height",boxR.y1-boxR.y0);

// ---- left panel lines
const line = d3.line().x(d=>xL(d[0])).y(d=>yL(d[1]));
const gL = svg.append("g").attr("clip-path","url(#clipL)");
[asgldErr, msgldErr, sgldErr].forEach((s,i)=>{
  gL.append("path").attr("d", line(s)).attr("fill","none")
    .attr("stroke", lineColors[i]).attr("stroke-width",6)
    .attr("stroke-linejoin","round").attr("stroke-linecap","round");
});

function styleAxis(g){
  g.select(".domain").remove();
  g.selectAll(".tick line").attr("stroke","#000").attr("stroke-width",2);
  g.selectAll("text").attr("font-size",FONT).attr("fill","#000")
   .attr("font-family",'"Liberation Sans",Arial,sans-serif');
}
const fmtInt = d => String(d);

svg.append("g").attr("transform",`translate(0,${boxL.y1})`)
  .call(d3.axisBottom(xL).tickValues(iterTicks).tickSize(19).tickSizeOuter(0).tickPadding(31).tickFormat(fmtInt))
  .call(styleAxis);
svg.append("g").attr("transform",`translate(${boxL.x0},0)`)
  .call(d3.axisLeft(yL).tickValues(errTicks).tickSize(19).tickSizeOuter(0).tickFormat(""))
  .call(styleAxis);
svg.append("g").selectAll("text").data(errTicks).join("text")
  .attr("transform", d=>`translate(116,${yL(d)}) rotate(-90)`)
  .attr("text-anchor","middle").attr("font-size",FONT).text(d3.format(".1f"));

svg.append("rect").attr("x",boxL.x0).attr("y",boxL.y0).attr("width",boxL.x1-boxL.x0).attr("height",boxL.y1-boxL.y0)
  .attr("fill","none").attr("stroke","#000").attr("stroke-width",2);

const legL = svg.append("g");
legL.append("rect").attr("x",765).attr("y",boxL.y0).attr("width",boxL.x1-765).attr("height",319-boxL.y0)
  .attr("fill","#fff").attr("stroke","#000").attr("stroke-width",2);
lineNames.forEach((n,i)=>{
  const yy = 201 + i*40.3;
  legL.append("line").attr("x1",792).attr("x2",857).attr("y1",yy).attr("y2",yy)
    .attr("stroke",lineColors[i]).attr("stroke-width",6);
  legL.append("text").attr("x",885).attr("y",yy+11.5).attr("font-size",FONT).text(n);
});

svg.append("text").attr("x",(boxL.x0+boxL.x1)/2).attr("y",1149).attr("text-anchor","middle")
  .attr("font-size",FONT).text("Iteration");
svg.append("text").attr("transform",`translate(35.5,${(boxL.y0+boxL.y1)/2}) rotate(-90)`)
  .attr("text-anchor","middle").attr("font-size",FONT).text("Average Absolute Error of Sample Covariance");

// ---- right panel scatter
const gR = svg.append("g").attr("clip-path","url(#clipR)");
const scatterSets = [asgldOuter.concat(asgldCore, asgldCoreDense), msgldOuter.concat(msgldCore, msgldCoreDense)];
scatterSets.forEach((pts,i)=>{
  gR.append("g").selectAll("circle").data(pts).join("circle")
    .attr("cx",d=>xR(d[0])).attr("cy",d=>yR(d[1])).attr("r",6.5)
    .attr("fill","none").attr("stroke",scatterColors[i]).attr("stroke-width",2);
});
const cline = d3.line().x(d=>xR(d[0])).y(d=>yR(d[1])).curve(d3.curveCatmullRom.alpha(0.5));
[contourOuter, contourMiddle, contourInner].forEach(c=>{
  gR.append("path").attr("d",cline(c)).attr("fill","none").attr("stroke","#000").attr("stroke-width",1.6);
});

svg.append("g").attr("transform",`translate(0,${boxR.y1})`)
  .call(d3.axisBottom(xR).tickValues(thetaTicks).tickSize(19).tickSizeOuter(0).tickPadding(31).tickFormat(fmtInt))
  .call(styleAxis);
svg.append("g").attr("transform",`translate(${boxR.x0},0)`)
  .call(d3.axisLeft(yR).tickValues(thetaTicks).tickSize(19).tickSizeOuter(0).tickFormat(""))
  .call(styleAxis);
svg.append("g").selectAll("text").data(thetaTicks).join("text")
  .attr("transform", d=>`translate(1216,${yR(d)}) rotate(-90)`)
  .attr("text-anchor","middle").attr("font-size",FONT).text(fmtInt);

svg.append("rect").attr("x",boxR.x0).attr("y",boxR.y0).attr("width",boxR.x1-boxR.x0).attr("height",boxR.y1-boxR.y0)
  .attr("fill","none").attr("stroke","#000").attr("stroke-width",2);

const legR = svg.append("g");
legR.append("rect").attr("x",1925).attr("y",879).attr("width",boxR.x1-1925).attr("height",boxR.y1-879)
  .attr("fill","#fff").attr("stroke","#000").attr("stroke-width",2);
scatterNames.forEach((n,i)=>{
  const yy = 918.7 + i*40;
  legR.append("circle").attr("cx",1955.3).attr("cy",yy).attr("r",6.5)
    .attr("fill","none").attr("stroke",scatterColors[i]).attr("stroke-width",2);
  legR.append("text").attr("x",1984.7).attr("y",yy+11.5).attr("font-size",FONT).text(n);
});

const t1 = svg.append("text").attr("x",(boxR.x0+boxR.x1)/2).attr("y",1143).attr("text-anchor","middle")
  .attr("font-family",'"Liberation Serif","DejaVu Serif",serif').attr("font-size",FONT);
t1.append("tspan").text("θ");
t1.append("tspan").attr("font-size",22).attr("dy",7).attr("font-family",'"Liberation Sans",Arial,sans-serif').text("1");
const t2 = svg.append("text").attr("transform",`translate(1129,${(boxR.y0+boxR.y1)/2}) rotate(-90)`).attr("text-anchor","middle")
  .attr("font-family",'"Liberation Serif","DejaVu Serif",serif').attr("font-size",FONT);
t2.append("tspan").text("θ");
t2.append("tspan").attr("font-size",22).attr("dy",7).attr("font-family",'"Liberation Sans",Arial,sans-serif').text("2");
</script>
</body></html>
